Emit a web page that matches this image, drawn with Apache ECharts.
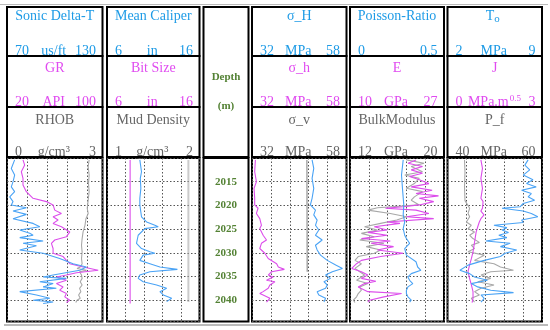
<!DOCTYPE html>
<html><head><meta charset="utf-8">
<script src="https://cdn.jsdelivr.net/npm/echarts@6/dist/echarts.min.js"></script>
<style>html,body{margin:0;padding:0;background:#fff}#c{width:550px;height:330px}</style>
</head><body><div id="c"></div><script>
// ---- data: [depth (m), value] ----
const sonicDT = [[2010.4,74.8],[2012.2,72.7],[2013.6,74.8],[2015.0,73.8],[2016.1,72.7],[2017.1,74.8],[2018.2,71.7],[2019.2,73.8],[2019.9,72.7],[2020.5,82.2],[2021.2,73.8],[2021.9,82.2],[2022.8,73.8],[2023.8,86.4],[2024.5,90.6],[2025.2,78.0],[2025.9,84.3],[2026.3,86.4],[2026.8,78.0],[2027.5,92.7],[2028.0,80.1],[2028.5,88.5],[2029.4,78.0],[2030.1,92.7],[2031.2,103.1],[2032.3,111.5],[2033.0,119.9],[2033.7,115.7],[2034.7,99.0],[2035.1,92.7],[2035.4,107.3],[2036.1,90.6],[2036.5,99.0],[2037.2,92.7],[2037.5,101.0],[2038.2,78.0],[2038.9,88.5],[2039.6,96.9],[2040.0,86.4],[2040.4,99.0],[2040.7,92.7]];
const gammaRay = [[2010.4,33.4],[2011.5,34.8],[2012.9,32.0],[2014.3,33.4],[2015.7,33.4],[2017.1,36.2],[2018.5,41.8],[2019.2,53.0],[2019.9,58.6],[2021.0,60.0],[2021.7,65.6],[2022.4,58.6],[2023.1,62.8],[2023.8,58.6],[2024.5,65.6],[2025.6,72.6],[2026.6,69.8],[2027.3,60.0],[2028.0,57.2],[2029.1,58.6],[2030.1,58.6],[2030.8,67.0],[2031.6,69.8],[2032.3,72.6],[2033.0,83.8],[2033.7,96.4],[2034.2,78.2],[2034.7,69.8],[2035.1,61.4],[2035.8,69.8],[2036.5,61.4],[2037.2,67.0],[2037.9,64.2],[2038.6,69.8],[2039.3,68.4],[2040.0,72.6],[2040.5,69.8]];
const rhob = [[2010.4,2.58],[2011.8,2.55],[2013.6,2.58],[2015.4,2.56],[2017.1,2.58],[2018.9,2.55],[2020.6,2.52],[2021.7,2.55],[2022.8,2.48],[2024.2,2.45],[2025.6,2.39],[2027.0,2.36],[2028.4,2.34],[2029.8,2.36],[2031.2,2.34],[2032.3,2.36],[2033.0,2.30],[2033.3,2.20],[2033.7,2.50],[2034.0,2.28],[2034.7,2.34],[2035.4,2.36],[2036.1,2.30],[2036.8,2.36],[2037.5,2.28],[2038.2,2.32],[2038.9,2.25],[2039.6,2.30],[2040.0,2.20],[2040.5,2.16]];
const caliper = [[2010.4,9.55],[2012.9,9.73],[2014.3,9.60],[2016.4,9.66],[2018.5,9.55],[2019.9,9.55],[2022.4,9.73],[2023.5,10.28],[2024.2,11.18],[2024.5,11.54],[2024.9,10.09],[2026.3,9.37],[2028.0,9.19],[2029.1,9.73],[2029.8,10.64],[2030.1,11.18],[2030.5,9.91],[2031.6,9.55],[2032.3,10.64],[2033.0,11.72],[2033.5,13.61],[2034.0,10.64],[2034.7,9.55],[2035.4,9.37],[2036.1,9.91],[2036.8,11.36],[2037.5,12.45],[2038.2,11.72],[2038.9,12.09],[2039.6,12.99],[2040.3,12.45]];
const bitSize = [[2010.4,8.5],[2040.7,8.5]];
const mudDensity = [[2010.4,1.88],[2040.4,1.88]];
const sigmaHmax = [[2010.4,48.53],[2012.2,48.99],[2014.3,48.53],[2016.4,48.99],[2018.5,48.53],[2019.9,48.06],[2021.0,49.46],[2022.0,48.99],[2023.1,49.92],[2024.2,49.46],[2025.2,50.39],[2026.3,49.46],[2027.3,51.31],[2028.4,49.46],[2029.4,49.92],[2030.5,50.85],[2031.6,52.71],[2032.6,55.03],[2033.3,56.89],[2034.0,54.10],[2034.7,52.24],[2035.4,53.60],[2036.1,51.78],[2036.8,52.71],[2037.5,52.24],[2038.2,49.92],[2038.9,50.39],[2039.6,52.24],[2040.4,51.78]];
const sigmaHmin = [[2010.4,32.93],[2012.9,32.74],[2015.0,33.21],[2016.4,32.56],[2018.5,32.74],[2019.9,32.74],[2020.6,33.67],[2021.7,33.21],[2022.8,34.14],[2024.2,34.60],[2024.9,34.14],[2026.3,35.06],[2027.3,35.99],[2028.0,34.60],[2029.1,34.14],[2030.1,35.53],[2031.2,36.46],[2032.3,38.78],[2033.0,39.24],[2033.5,40.91],[2034.0,37.39],[2034.7,36.46],[2035.1,37.85],[2035.8,35.99],[2036.1,38.31],[2036.8,36.92],[2037.5,36.46],[2038.2,35.06],[2038.6,34.14],[2038.9,35.06],[2039.6,36.92],[2040.4,35.99]];
const sigmaV = [[2010.4,47.1],[2034.0,47.2]];
const poisson = [[2010.4,0.283],[2013.6,0.274],[2016.4,0.279],[2019.9,0.286],[2022.0,0.283],[2023.5,0.291],[2024.9,0.283],[2026.3,0.291],[2027.0,0.300],[2028.0,0.317],[2029.1,0.291],[2030.5,0.300],[2031.9,0.351],[2033.0,0.360],[2033.7,0.377],[2034.4,0.326],[2035.1,0.308],[2035.8,0.317],[2036.5,0.334],[2037.2,0.308],[2037.9,0.300],[2038.6,0.300],[2039.3,0.308],[2040.0,0.326],[2040.4,0.317]];
const youngE = [[2010.4,21.94],[2011.1,20.49],[2011.8,23.11],[2012.5,21.07],[2013.2,23.11],[2013.9,20.78],[2014.6,22.53],[2015.4,24.27],[2016.1,21.07],[2016.8,24.85],[2017.5,21.94],[2018.0,26.01],[2018.5,22.53],[2019.2,25.14],[2019.9,22.53],[2020.3,19.62],[2020.6,16.42],[2021.0,21.94],[2021.7,24.27],[2022.4,20.20],[2022.8,25.14],[2023.5,16.71],[2023.8,19.04],[2024.5,14.39],[2025.2,16.71],[2025.7,13.23],[2026.3,16.71],[2027.0,12.06],[2027.5,17.29],[2028.0,13.81],[2028.7,17.88],[2029.4,14.97],[2030.1,19.62],[2030.8,15.55],[2031.6,12.06],[2032.3,11.19],[2033.3,10.32],[2034.0,12.06],[2034.7,13.23],[2035.4,12.06],[2036.0,14.68],[2036.5,12.64],[2037.2,11.48],[2038.2,13.23],[2038.6,19.33],[2039.3,16.13],[2040.0,13.52],[2040.4,13.23]];
const bulkModulus = [[2010.4,16.80],[2011.1,18.30],[2011.8,17.21],[2012.9,18.17],[2013.6,16.66],[2014.3,17.89],[2015.4,17.48],[2016.4,16.80],[2017.1,18.17],[2018.2,17.48],[2018.9,17.21],[2019.9,17.89],[2020.5,14.34],[2021.0,13.52],[2021.7,15.43],[2022.4,16.80],[2023.1,15.98],[2023.8,14.61],[2024.5,13.24],[2025.2,14.34],[2025.9,12.97],[2026.6,14.06],[2027.3,12.83],[2028.0,14.89],[2028.7,13.38],[2029.4,14.61],[2030.1,14.06],[2030.8,12.70],[2031.6,12.42],[2032.3,12.97],[2033.3,12.42],[2034.0,12.83],[2034.7,13.24],[2035.8,12.56],[2036.5,13.52],[2037.2,12.83],[2037.9,12.97],[2038.6,12.70],[2039.3,12.56],[2040.0,12.29],[2040.5,12.42]];
const tensileT0 = [[2010.4,7.97],[2011.5,7.73],[2012.5,8.09],[2013.6,7.61],[2014.6,8.33],[2015.4,7.85],[2016.1,8.57],[2016.8,7.49],[2017.5,8.21],[2018.2,7.97],[2018.9,8.45],[2019.6,7.61],[2020.3,7.37],[2020.6,6.04],[2021.2,7.61],[2021.7,8.21],[2022.4,8.69],[2023.1,7.49],[2023.6,7.61],[2024.2,5.44],[2024.7,6.40],[2025.2,6.04],[2025.7,6.52],[2026.3,5.80],[2026.8,6.40],[2027.5,4.84],[2028.0,6.64],[2028.7,5.92],[2029.4,7.13],[2030.1,6.28],[2030.8,5.92],[2031.6,4.72],[2032.6,3.52],[2033.7,2.92],[2034.4,3.64],[2035.1,4.00],[2035.8,4.96],[2036.5,3.76],[2037.2,4.24],[2037.9,5.20],[2038.4,6.89],[2038.9,4.48],[2039.6,4.72],[2040.4,4.48]];
const fractureJ = [[2010.4,1.06],[2012.2,1.11],[2014.3,1.06],[2016.4,1.11],[2018.5,1.06],[2019.2,1.13],[2020.6,1.11],[2021.2,1.06],[2022.0,1.16],[2022.8,1.06],[2023.5,1.01],[2024.5,0.96],[2025.6,0.91],[2027.7,0.86],[2029.8,0.81],[2031.2,0.76],[2032.6,0.70],[2034.0,0.65],[2035.4,0.70],[2036.8,0.76],[2038.2,0.81],[2039.6,0.81],[2040.5,0.78]];
const porePf = [[2010.4,43.6],[2013.0,43.7],[2016.0,43.6],[2019.0,43.7],[2020.6,44.69],[2021.7,44.35],[2022.4,44.69],[2023.5,44.00],[2024.2,45.03],[2024.9,44.35],[2025.6,45.72],[2026.3,44.69],[2027.0,45.38],[2027.8,46.75],[2028.4,45.03],[2029.1,45.72],[2029.8,44.35],[2030.5,47.78],[2031.6,45.72],[2032.3,49.84],[2033.0,51.21],[2033.7,53.96],[2034.0,49.15],[2034.7,47.09],[2035.4,49.15],[2036.1,46.41],[2036.8,49.84],[2037.5,47.09],[2038.2,45.72],[2038.9,46.75],[2039.6,45.03],[2040.4,45.72]];
const depthMin = 2010, depthMax = 2044.5, depthStep = 5;

// ---- track definitions ----
const BLUE = '#4aa3f5', MAG = '#dc4deb', GRAY = '#a8a8a8';
const TBLUE = '#1e9be6', TMAG = '#e04bf0', TGRAY = '#666666';
const tracks = [
  {curves:[
    {title:'Sonic Delta-T', unit:'us/ft', min:70, max:130, data:sonicDT},
    {title:'GR', unit:'API', min:20, max:100, data:gammaRay},
    {title:'RHOB', unit:'g/cm³', min:0, max:3, data:rhob}]},
  {curves:[
    {title:'Mean Caliper', unit:'in', min:6, max:16, data:caliper},
    {title:'Bit Size', unit:'in', min:6, max:16, data:bitSize},
    {title:'Mud Density', unit:'g/cm³', min:1, max:2, data:mudDensity}]},
  {curves:[
    {title:'σ_H', unit:'MPa', min:32, max:58, data:sigmaHmax},
    {title:'σ_h', unit:'MPa', min:32, max:58, data:sigmaHmin},
    {title:'σ_v', unit:'MPa', min:32, max:58, data:sigmaV}]},
  {curves:[
    {title:'Poisson-Ratio', unit:'', min:0, max:0.5, data:poisson},
    {title:'E', unit:'GPa', min:10, max:27, data:youngE},
    {title:'BulkModulus', unit:'GPa', min:12, max:20, data:bulkModulus}]},
  {curves:[
    {title:'T', unit:'MPa', min:2, max:9, data:tensileT0},
    {title:'J', unit:'MPa.m', min:0, max:3, data:fractureJ},
    {title:'P_f', unit:'MPa', min:40, max:60, data:porePf}]}
];

// ---- layout ----
const boxes = [[7,102.5],[107,199.5],[252,346.5],[350,444],[447.5,542]];
const gridSpan = [4.78,5,5,5,5];
const depthBox = [203.5,248.5];
const rowEdges = [7,56,107,157];
const dataTop = 158, dataBottom = 321.5;
const lineColors = [BLUE, MAG, GRAY];
const textColors = [TBLUE, TMAG, TGRAY];
const lineWidths = [[1.2,1.2,1.2],[1.2,1.2,2],[1.2,1.2,1.5]];
const SERIF = '"Liberation Serif","Times New Roman",serif';

const grid = [], xAxis = [], yAxis = [], series = [], graphic = [];
const dotted = {type:[1.5,2], color:'#555', width:1};

boxes.forEach((b, g) => {
  grid.push({left:b[0], top:dataTop, width:b[1]-b[0], height:dataBottom-dataTop,
    show:true, borderColor:'#000', borderWidth:2, containLabel:false});
  yAxis.push({gridIndex:g, type:'value', inverse:true, min:depthMin, max:depthMax, interval:depthStep,
    axisLine:{show:false}, axisTick:{show:false}, axisLabel:{show:false},
    splitLine:{show:true, lineStyle:dotted}});
  xAxis.push({gridIndex:g, type:'value', min:0, max:gridSpan[g], interval:1,
    axisLine:{show:false}, axisTick:{show:false}, axisLabel:{show:false},
    splitLine:{show:true, lineStyle:dotted}});
  tracks[g].curves.forEach((c, k) => {
    const xi = xAxis.length;
    xAxis.push({gridIndex:g, type:'value', min:c.min, max:c.max, show:false});
    series.push({type:'line', xAxisIndex:xi, yAxisIndex:g, symbol:'none', silent:true,
      animation:false, clip:true, z:3 + (2-k),
      lineStyle:{color:lineColors[k], width:(g===1&&k===2)?2:(g===2&&k===2?1.5:1.1),
        opacity:(g===1&&k===2)?0.6:1},
      data:c.data.map(p => [p[1], p[0]])});
  });
});

// depth column grid with labels from the depth axis
grid.push({left:depthBox[0], top:dataTop, width:depthBox[1]-depthBox[0], height:dataBottom-dataTop,
  show:true, borderColor:'#000', borderWidth:2});
xAxis.push({gridIndex:5, type:'value', min:0, max:1, show:false});
yAxis.push({gridIndex:5, type:'value', inverse:true, min:depthMin, max:depthMax, interval:depthStep,
  axisLine:{show:false}, axisTick:{show:false}, splitLine:{show:false},
  axisLabel:{inside:true, margin:(depthBox[1]-depthBox[0])/2, align:'center', verticalAlign:'middle',
    showMinLabel:false, showMaxLabel:false, formatter:v => String(v),
    fontFamily:SERIF, fontWeight:'bold', fontSize:11, color:'#548235'}});
series.push({type:'line', xAxisIndex:xAxis.length-1, yAxisIndex:5, data:[], symbol:'none'});

// headers
const titleOff = [9.7, 12.7, 13];
boxes.forEach((b, g) => {
  const cx = (b[0]+b[1])/2;
  tracks[g].curves.forEach((c, k) => {
    const top = rowEdges[k], bot = rowEdges[k+1];
    graphic.push({type:'rect', z:20, shape:{x:b[0], y:top, width:b[1]-b[0], height:bot-top},
      style:{fill:'none', stroke:'#000', lineWidth:2}});
    const col = textColors[k];
    const font = '14px ' + SERIF;
    if (g === 4 && k === 0) {
      graphic.push({type:'text', z:10, style:{text:'T', x:cx-0.5, y:top+titleOff[k], font, fill:col, align:'right', verticalAlign:'middle'}});
      graphic.push({type:'text', z:10, style:{text:'o', x:cx-0.5, y:top+titleOff[k]+2, font:'11px '+SERIF, fill:col, align:'left', verticalAlign:'middle'}});
    } else {
      graphic.push({type:'text', z:10, style:{text:c.title, x:cx, y:top+titleOff[k], font, fill:col, align:'center', verticalAlign:'middle'}});
    }
    const ly = bot - 4.5;
    graphic.push({type:'text', z:10, style:{text:String(c.min), x:b[0]+8, y:ly, font, fill:col, align:'left', verticalAlign:'middle'}});
    graphic.push({type:'text', z:10, style:{text:String(c.max), x:b[1]-6.5, y:ly, font, fill:col, align:'right', verticalAlign:'middle'}});
    if (c.unit) {
      if (g === 4 && k === 1) {
        graphic.push({type:'text', z:10, style:{text:c.unit, x:cx+14, y:ly, font, fill:col, align:'right', verticalAlign:'middle'}});
        graphic.push({type:'text', z:10, style:{text:'0.5', x:cx+15, y:ly-4, font:'9px '+SERIF, fill:col, align:'left', verticalAlign:'middle'}});
      } else {
        graphic.push({type:'text', z:10, style:{text:c.unit, x:cx-1, y:ly, font, fill:col, align:'center', verticalAlign:'middle'}});
      }
    }
  });
});
// depth header
graphic.push({type:'rect', z:20, shape:{x:depthBox[0], y:rowEdges[0], width:depthBox[1]-depthBox[0], height:rowEdges[3]-rowEdges[0]},
  style:{fill:'none', stroke:'#000', lineWidth:2}});
const dcx = (depthBox[0]+depthBox[1])/2;
graphic.push({type:'text', z:10, style:{text:'Depth', x:dcx, y:77.5, font:'bold 11px '+SERIF, fill:'#548235', align:'center', verticalAlign:'middle'}});
graphic.push({type:'text', z:10, style:{text:'(m)', x:dcx, y:106, font:'bold 11px '+SERIF, fill:'#548235', align:'center', verticalAlign:'middle'}});
// outer frame lines
graphic.push({type:'line', z:1, shape:{x1:0, y1:4.5, x2:548, y2:4.5}, style:{stroke:'#bbbbbb', lineWidth:1}});
graphic.push({type:'line', z:1, shape:{x1:4, y1:325, x2:548, y2:325}, style:{stroke:'#777777', lineWidth:1}});

const chart = echarts.init(document.getElementById('c'), null, {renderer:'canvas'});
chart.setOption({animation:false, backgroundColor:'#fff', grid, xAxis, yAxis, series, graphic});
</script></body></html>
